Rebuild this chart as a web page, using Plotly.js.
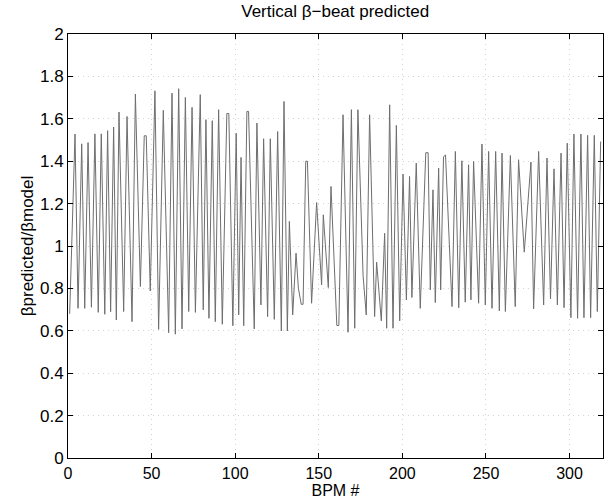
<!DOCTYPE html>
<html>
<head>
<meta charset="utf-8">
<script src="https://cdn.plot.ly/plotly-3.0.1.min.js"></script>
<style>html,body{margin:0;padding:0;background:#fff;}#chart{width:604px;height:502px;}</style>
</head>
<body>
<div id="chart"></div>
<script>
// BPM index (peak / trough positions)
const bpm = [1.0, 4.2, 6.0, 8.2, 10.0, 12.0, 14.0, 16.1, 18.1, 19.9, 22.0, 23.7, 25.5, 27.3, 28.9, 30.5,
  33.3, 35.3, 38.3, 40.3, 43.3, 45.6, 46.8, 49.2, 52.0, 54.2, 57.0, 60.2, 62.2, 64.2, 66.2, 68.2, 70.2,
  72.2, 74.2, 76.2, 79.1, 80.9, 82.5, 84.3, 86.3, 88.1, 90.1, 92.3, 95.0, 96.2, 98.6, 100.6, 102.1, 103.5,
  105.1, 107.0, 108.0, 111.4, 113.0, 115.4, 117.0, 119.4, 121.0, 123.4, 125.4, 127.6, 129.2, 131.2, 132.4,
  134.4, 136.4, 137.8, 139.5, 140.6, 142.2, 143.2, 145.7, 148.7, 151.7, 152.7, 155.7, 157.3, 160.8, 162.0,
  164.5, 167.5, 169.5, 171.5, 173.4, 176.5, 178.4, 180.4, 183.4, 184.6, 187.4, 189.4, 190.6, 192.4, 194.4,
  196.4, 198.4, 200.4, 202.4, 204.3, 205.7, 208.3, 210.7, 214.0, 215.4, 216.7, 218.3, 219.7, 221.7, 222.9,
  224.6, 225.8, 229.7, 231.7, 233.7, 235.6, 237.6, 239.6, 241.0, 242.6, 245.6, 247.6, 249.6, 251.6, 253.6,
  255.8, 258.0, 259.6, 261.6, 264.6, 267.5, 269.5, 272.9, 276.9, 278.5, 281.5, 284.5, 286.5, 288.6, 290.7,
  292.7, 294.9, 296.7, 298.6, 300.8, 302.6, 304.8, 306.8, 308.6, 310.8, 312.6, 314.8, 316.6, 318.6];
// beta predicted / beta model
const betaRatio = [0.68, 1.528, 0.706, 1.482, 0.706, 1.488, 0.711, 1.529, 0.687, 1.529, 0.678, 1.544, 0.690, 1.561, 0.651, 1.632,
  0.691, 1.611, 0.643, 1.717, 0.809, 1.52, 1.52, 0.788, 1.732, 0.607, 1.640, 0.591, 1.721, 0.584, 1.742, 0.609, 1.701,
  0.691, 1.654, 0.687, 1.714, 0.699, 1.596, 0.659, 1.591, 0.643, 1.643, 0.631, 1.625, 1.625, 0.624, 1.532, 0.675, 1.418,
  0.624, 1.635, 1.635, 0.609, 1.580, 0.722, 1.506, 0.667, 1.506, 0.654, 1.540, 0.599, 1.682, 0.599, 1.116,
  0.675, 0.966, 0.801, 0.725, 0.725, 1.40, 1.40, 0.730, 1.205, 0.816, 1.147, 0.804, 1.281, 0.625, 0.625,
  1.619, 0.593, 1.643, 0.612, 1.643, 0.86, 0.675, 1.619, 0.667, 0.924, 0.647, 1.060, 0.612, 1.666, 0.612,
  1.569, 0.647, 1.339, 0.746, 1.328, 0.757, 1.391, 0.706, 1.44, 1.44, 0.793, 1.265, 0.733, 1.367, 0.793,
  1.42, 1.43, 0.714, 1.446, 0.709, 1.402, 0.735, 1.383, 0.746, 1.399, 0.730, 1.481, 0.722, 1.446, 0.706,
  1.446, 0.694, 1.438, 0.691, 1.427, 0.714, 1.407, 0.971, 1.396, 0.703, 1.446, 0.722, 1.415, 0.750, 1.364,
  0.722, 1.438, 0.709, 1.485, 0.662, 1.528, 0.659, 1.528, 0.662, 1.522, 0.662, 1.522, 0.691, 1.493];

const xTicks = [0, 50, 100, 150, 200, 250, 300];
const yTicks = [0, 0.2, 0.4, 0.6, 0.8, 1, 1.2, 1.4, 1.6, 1.8, 2];
const yTickText = ['0', '0.2', '0.4', '0.6', '0.8', '1', '1.2', '1.4', '1.6', '1.8', '2'];

const font = 'Liberation Sans, Arial, Helvetica, sans-serif';

const trace = {
  x: bpm, y: betaRatio, type: 'scatter', mode: 'lines',
  line: {color: '#6e6e6e', width: 1}, hoverinfo: 'skip'
};

const axisCommon = {
  showline: true, linecolor: '#000', linewidth: 1, mirror: 'ticks',
  ticks: 'inside', ticklen: 5, tickcolor: '#000', tickwidth: 1,
  showgrid: true, gridcolor: '#d4d4d4', griddash: '1px,4px', gridwidth: 1,
  zeroline: false, tickfont: {family: font, size: 17, color: '#000'}
};

const layout = {
  width: 604, height: 502,
  margin: {l: 68, r: 1, t: 34, b: 44},
  paper_bgcolor: '#fff', plot_bgcolor: '#fff',
  showlegend: false,
  font: {family: font, color: '#000'},
  title: {text: 'Vertical β−beat predicted', font: {family: font, size: 17, color: '#000'},
          x: 0.555, xanchor: 'center', y: 0.99, yanchor: 'top'},
  xaxis: Object.assign({}, axisCommon, {
    range: [0, 320], tickvals: xTicks, ticktext: xTicks.map(String),
    tickfont: {family: font, size: 16, color: '#000'},
    title: {text: 'BPM #', font: {family: font, size: 16, color: '#000'}, standoff: 1},
    ticklabelstandoff: 1
  }),
  yaxis: Object.assign({}, axisCommon, {
    range: [0, 2], tickvals: yTicks, ticktext: yTickText,
    title: {text: 'βpredicted/βmodel', font: {family: font, size: 17, color: '#000'}, standoff: 2}
  })
};

Plotly.newPlot('chart', [trace], layout, {displayModeBar: false, staticPlot: true});
</script>
</body>
</html>
